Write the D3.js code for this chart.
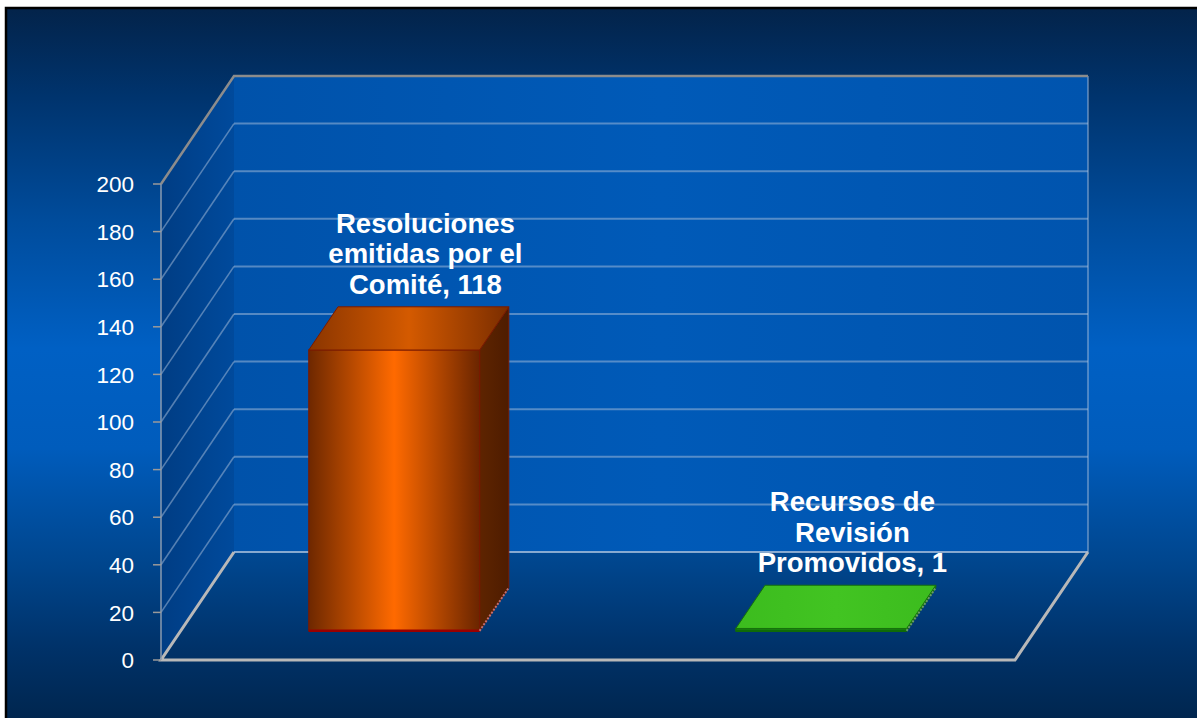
<!DOCTYPE html>
<html>
<head>
<meta charset="utf-8">
<script src="https://cdn.jsdelivr.net/npm/d3@7"></script>
<style>
  html, body { margin: 0; padding: 0; background: #ffffff; }
  svg { display: block; }
  text { font-family: "Liberation Sans", Arial, sans-serif; }
</style>
</head>
<body>
<svg id="chart" width="1197" height="718"></svg>
<script>
// ---- data ----
const categories = ["Resoluciones emitidas por el Comité", "Recursos de Revisión Promovidos"];
const categoryLines = [
  ["Resoluciones", "emitidas por el", "Comité"],
  ["Recursos de", "Revisión", "Promovidos"]
];
const values = [118, 1];
const yTicks = [0, 20, 40, 60, 80, 100, 120, 140, 160, 180, 200];

// ---- layout ----
const W = 1197, H = 718;
const DX = 73, DY = 108;          // depth offset of the 3D box
const depthFront = 0.27, depthBack = 0.67;  // bar position inside depth

const svg = d3.select("#chart");
const defs = svg.append("defs");

function linGrad(id, x1, y1, x2, y2, stops) {
  const g = defs.append("linearGradient").attr("id", id)
    .attr("x1", x1).attr("y1", y1).attr("x2", x2).attr("y2", y2);
  stops.forEach(s => g.append("stop").attr("offset", s[0]).attr("stop-color", s[1]));
}

linGrad("bg", 0, 0, 0, 1, [
  [0, "#03234a"], [0.12, "#00336c"], [0.3, "#004c9c"], [0.48, "#0060c4"],
  [0.62, "#005cbc"], [0.78, "#00468e"], [0.9, "#003269"], [1, "#00264f"]
]);
linGrad("backWall", 0, 0, 1, 0, [[0, "#0052aa"], [0.5, "#005ab8"], [1, "#0054ae"]]);
linGrad("sideWall", 0, 0, 1, 0, [[0, "#003d84"], [1, "#004a9c"]]);
linGrad("barFront0", 0, 0, 1, 0, [[0, "#6e2800"], [0.5, "#ff6a00"], [1, "#6a2500"]]);
linGrad("barSide0", 0, 0, 1, 0, [[0, "#5e2400"], [1, "#4e1c00"]]);
linGrad("barTop0", 0, 0, 1, 0, [[0, "#8a3500"], [0.5, "#d45a00"], [1, "#7a2d00"]]);
linGrad("barFront1", 0, 0, 1, 0, [[0, "#1c8a10"], [0.5, "#2aa418"], [1, "#1c8a10"]]);
linGrad("barSide1", 0, 0, 1, 0, [[0, "#1a7a0e"], [1, "#1a7a0e"]]);
linGrad("barTop1", 0, 0, 1, 0, [[0, "#3cbc1e"], [0.5, "#42c422"], [1, "#3cbc1e"]]);

// background and frame
svg.append("rect").attr("x", 6).attr("y", 8).attr("width", W - 6).attr("height", H - 8)
  .attr("fill", "url(#bg)");
svg.append("path").attr("d", `M6,${H} V8 H${W}`).attr("fill", "none")
  .attr("stroke", "#000").attr("stroke-width", 2.5);

// ---- scales ----
const y = d3.scaleLinear().domain([0, 200]).range([660, 184]);
const x = d3.scaleBand().domain(categories).range([161, 1015])
  .paddingInner(0.6).paddingOuter(0.3);
const x0 = 161, x1 = 1015;

// project a point (screen x on front plane, value, depth fraction)
const P = (px, v, d) => [px + d * DX, y(v) - d * DY];
const poly = pts => "M" + pts.map(p => p.join(",")).join("L") + "Z";
const line = pts => "M" + pts.map(p => p.join(",")).join("L");

const yMin = y.domain()[0], yMax = y.domain()[1];

// walls
svg.append("path").attr("d", poly([P(x0, yMin, 1), P(x0, yMax, 1), P(x1, yMax, 1), P(x1, yMin, 1)]))
  .attr("fill", "url(#backWall)");
svg.append("path").attr("d", poly([P(x0, yMin, 0), P(x0, yMax, 0), P(x0, yMax, 1), P(x0, yMin, 1)]))
  .attr("fill", "url(#sideWall)");

// gridlines on back wall and side wall
const grid = svg.append("g");
yTicks.forEach(t => {
  grid.append("path").attr("d", line([P(x0, t, 1), P(x1, t, 1)]))
    .attr("stroke", "#a9bfdc").attr("stroke-opacity", t === yMax ? 0 : 0.5)
    .attr("stroke-width", 2).attr("fill", "none");
  if (t !== yMin && t !== yMax) {
    grid.append("path").attr("d", line([P(x0, t, 0), P(x0, t, 1)]))
      .attr("stroke", "#a9bfdc").attr("stroke-opacity", 0.5)
      .attr("stroke-width", 1.6).attr("fill", "none");
  }
});
// back wall right edge
grid.append("path").attr("d", line([P(x1, yMax, 1), P(x1, yMin, 1)]))
  .attr("stroke", "#a9bfdc").attr("stroke-opacity", 0.45).attr("stroke-width", 2).attr("fill", "none");
// top edges of walls
grid.append("path").attr("d", line([P(x0, yMax, 0), P(x0, yMax, 1), P(x1, yMax, 1)]))
  .attr("stroke", "#8c8c8c").attr("stroke-width", 2.5).attr("fill", "none");

// floor edges
const floor = svg.append("g").attr("fill", "none");
floor.append("path").attr("d", line([P(x0, yMin, 1), P(x0, yMin, 0), P(x1, yMin, 0), P(x1, yMin, 1)]))
  .attr("stroke", "#b8b8b8").attr("stroke-width", 3);
floor.append("path").attr("d", line([P(x0, yMin, 1), P(x1, yMin, 1)]))
  .attr("stroke", "#a9bfdc").attr("stroke-opacity", 0.6).attr("stroke-width", 2);

// value axis
const axisG = svg.append("g");
axisG.append("path").attr("d", line([P(x0, yMin, 0), P(x0, yMax, 0)]))
  .attr("stroke", "#8a9bb0").attr("stroke-width", 1.5).attr("fill", "none");
yTicks.forEach(t => {
  axisG.append("line").attr("x1", x0 - 8).attr("x2", x0).attr("y1", y(t)).attr("y2", y(t))
    .attr("stroke", "#9a9a9a").attr("stroke-width", 1.5);
  axisG.append("text").attr("x", x0 - 27).attr("y", y(t)).attr("dy", "0.36em")
    .attr("text-anchor", "end").attr("fill", "#ffffff").attr("font-size", 22.5)
    .text(t);
});

// bars
const bars = svg.append("g");
values.forEach((v, i) => {
  const c = categories[i];
  const L = x(c), R = x(c) + x.bandwidth();
  const fbl = P(L, yMin, depthFront), fbr = P(R, yMin, depthFront);
  const ftl = P(L, v, depthFront), ftr = P(R, v, depthFront);
  const bbr = P(R, yMin, depthBack), btl = P(L, v, depthBack), btr = P(R, v, depthBack);
  const edge = i === 0 ? "#7a1a00" : "#16700c";
  // right side
  bars.append("path").attr("d", poly([fbr, ftr, btr, bbr]))
    .attr("fill", `url(#barSide${i})`).attr("stroke", edge).attr("stroke-width", 1);
  // front
  bars.append("path").attr("d", poly([fbl, ftl, ftr, fbr]))
    .attr("fill", `url(#barFront${i})`).attr("stroke", edge).attr("stroke-width", 1.2);
  // top
  bars.append("path").attr("d", poly([ftl, btl, btr, ftr]))
    .attr("fill", `url(#barTop${i})`).attr("stroke", edge).attr("stroke-width", 1);
  // bottom edges
  bars.append("path").attr("d", line([fbl, fbr]))
    .attr("stroke", i === 0 ? "#990000" : "#0f6a08").attr("stroke-width", 2.5).attr("fill", "none");
  bars.append("path").attr("d", line([fbr, bbr]))
    .attr("stroke", i === 0 ? "#c07070" : "#6a9a6a").attr("stroke-width", 2)
    .attr("stroke-dasharray", "2,1.5").attr("fill", "none");

  // data label
  const lines = categoryLines[i].slice();
  lines[lines.length - 1] = lines[lines.length - 1] + ", " + v;
  const cx = (L + R) / 2 + depthBack * DX + 2;
  const baseY = btl[1] - 13;
  const lab = bars.append("text").attr("text-anchor", "middle").attr("fill", "#ffffff")
    .attr("font-size", 27.5).attr("font-weight", "bold");
  lines.forEach((s, k) => {
    lab.append("tspan").attr("x", cx).attr("y", baseY - (lines.length - 1 - k) * 30.5).text(s);
  });
});
</script>
</body>
</html>
